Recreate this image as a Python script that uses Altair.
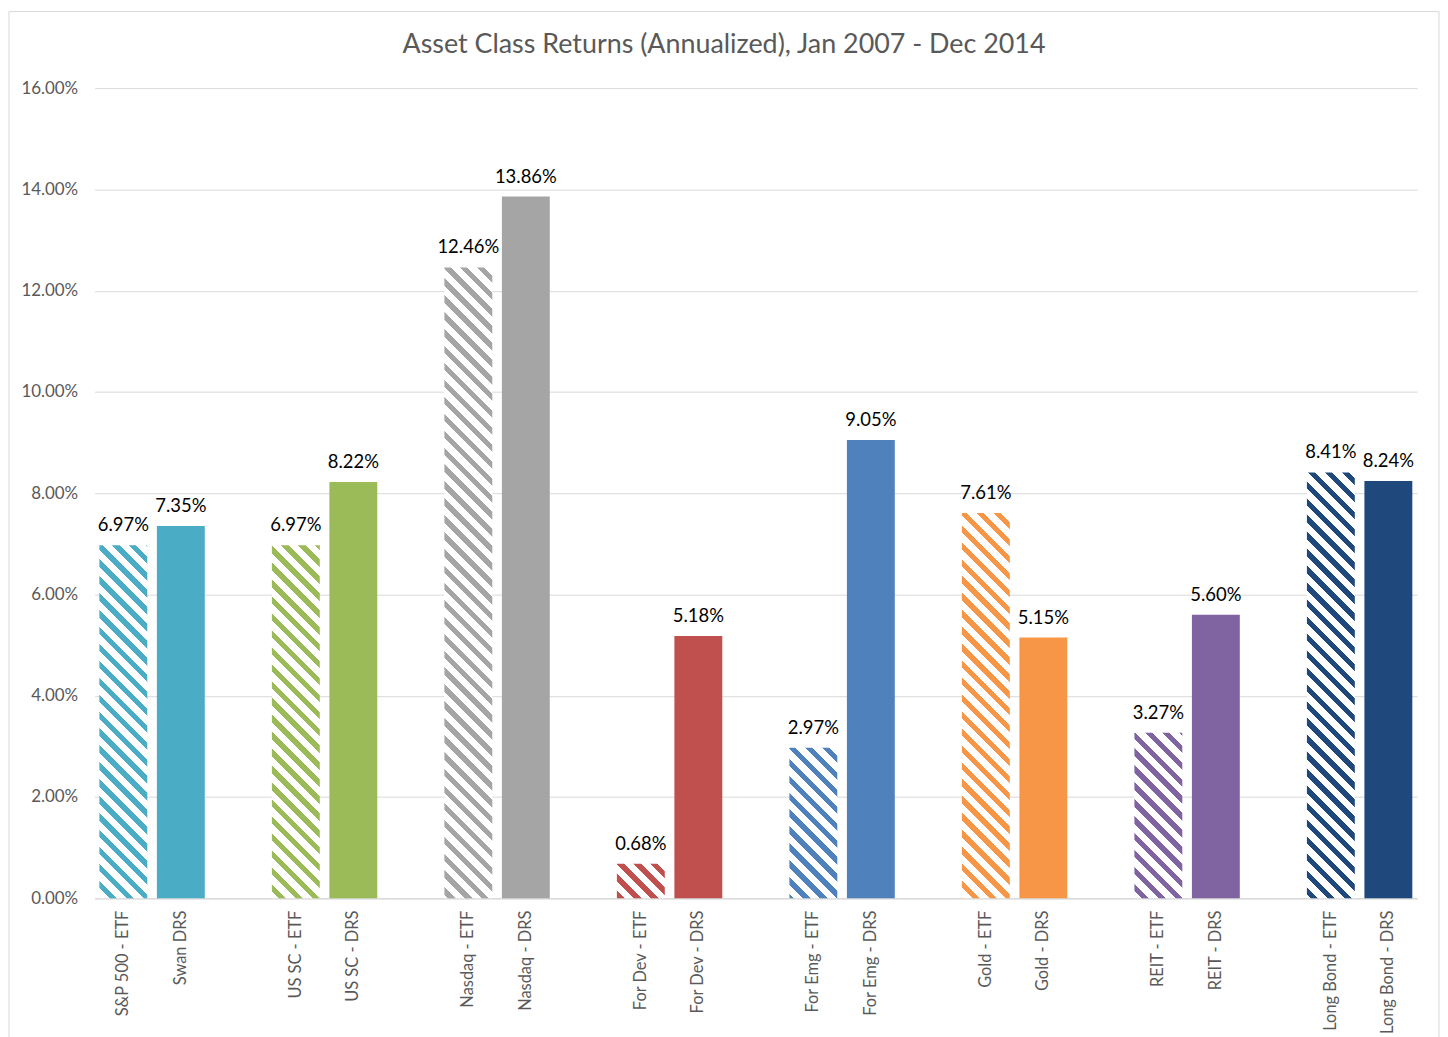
import altair as alt
import pandas as pd

# ---------------- data ----------------
groups = ["S&P 500", "US SC", "Nasdaq", "For Dev", "For Emg", "Gold", "REIT", "Long Bond"]
etf_labels = ["S&P 500 - ETF", "US SC - ETF", "Nasdaq - ETF", "For Dev - ETF",
              "For Emg - ETF", "Gold - ETF", "REIT - ETF", "Long Bond - ETF"]
drs_labels = ["Swan DRS", "US SC - DRS", "Nasdaq - DRS", "For Dev - DRS",
              "For Emg - DRS", "Gold - DRS", "REIT - DRS", "Long Bond - DRS"]
etf_values = [0.0697, 0.0697, 0.1246, 0.0068, 0.0297, 0.0761, 0.0327, 0.0841]
drs_values = [0.0735, 0.0822, 0.1386, 0.0518, 0.0905, 0.0515, 0.0560, 0.0824]
colors = ["#4BACC6", "#9BBB59", "#A5A5A5", "#C0504D", "#4F81BD", "#F79646", "#8064A2", "#1F497D"]
y_ticks = [0.0, 0.02, 0.04, 0.06, 0.08, 0.10, 0.12, 0.14, 0.16]
title_text = "Asset Class Returns (Annualized), Jan 2007 - Dec 2014"

# ---------------- layout constants ----------------
W, H = 1329, 814
Y_MAX = 0.16
PAD_IN = 0.167
PAD_OUT = PAD_IN / 2
FONT = "Lato"
GREY_TXT = "#595959"
GRID = "#d9d9d9"

# category slots (blank spacer slot between pairs)
slots = []
for i in range(len(groups)):
    slots += [etf_labels[i], drs_labels[i]]
    if i < len(groups) - 1:
        slots.append(" " * (i + 1))

rows = []
for i, g in enumerate(groups):
    rows.append({"label": etf_labels[i], "value": etf_values[i], "group": g, "kind": "ETF"})
    rows.append({"label": drs_labels[i], "value": drs_values[i], "group": g, "kind": "DRS"})
df = pd.DataFrame(rows)

n = len(slots)
step = W / (n - PAD_IN + 2 * PAD_OUT)
bw = step * (1 - PAD_IN)


def hatch(color, value, slot_index, period=17.0, frac=0.44):
    """Diagonal (down-right) stripe fill as a hard-stop linear gradient."""
    w = bw
    h = value / Y_MAX * H
    r = h / w
    du = (1 + r) / (1 + r * r)
    total = w + h
    x0 = PAD_OUT * step + slot_index * step
    shift = x0 - H  # global phase alignment
    stops = []
    k = int(shift // period) - 1
    while True:
        a = k * period - shift
        b = a + frac * period
        k += 1
        if b <= 0:
            continue
        if a >= total:
            break
        a_c, b_c = max(a, 0) / total, min(b, total) / total
        stops.append(alt.GradientStop(color="#ffffff", offset=a_c))
        stops.append(alt.GradientStop(color=color, offset=a_c))
        stops.append(alt.GradientStop(color=color, offset=b_c))
        stops.append(alt.GradientStop(color="#ffffff", offset=b_c))
    return alt.LinearGradient(gradient="linear", stops=stops,
                              x1=0, y1=1, x2=du, y2=1 - r * du)


x_enc = alt.X("label:N", sort=slots,
              scale=alt.Scale(domain=slots, paddingInner=PAD_IN, paddingOuter=PAD_OUT),
              axis=alt.Axis(title=None, labelAngle=270, labelAlign="right",
                            labelBaseline="middle", labelPadding=12, ticks=False,
                            domainColor=GRID, domainWidth=1.5, grid=False,
                            labelOverlap=False, labelFont=FONT, labelFontSize=16.5,
                            labelColor=GREY_TXT, labelLimit=300))
y_enc = alt.Y("value:Q", scale=alt.Scale(domain=[0, Y_MAX], nice=False),
              axis=alt.Axis(title=None, format=".2%", values=y_ticks, domain=False,
                            ticks=False, gridColor=GRID, gridWidth=1, labelPadding=17,
                            labelFont=FONT, labelFontSize=17, labelColor=GREY_TXT))

base = alt.Chart(df)

drs = base.transform_filter(alt.datum.kind == "DRS").mark_bar().encode(
    x=x_enc, y=y_enc,
    color=alt.Color("group:N", scale=alt.Scale(domain=groups, range=colors), legend=None),
)

etf_layers = []
for i in range(len(groups)):
    gr = hatch(colors[i], etf_values[i], slots.index(etf_labels[i]))
    etf_layers.append(
        base.transform_filter(alt.datum.label == etf_labels[i])
        .mark_bar(color=gr)
        .encode(x=x_enc, y=y_enc)
    )

labels = base.mark_text(baseline="alphabetic", dy=-14, fontSize=18.5, font=FONT,
                        color="#000000").encode(
    x=x_enc, y=y_enc, text=alt.Text("value:Q", format=".2%"))

frame = alt.Chart(alt.Data(values=[{"a": 1}])).mark_rect(
    fill=None, stroke=GRID, strokeWidth=1).encode(
    x=alt.value(-86), x2=alt.value(W + 22), y=alt.value(-77), y2=alt.value(H + 150))

chart = alt.layer(frame, drs, *etf_layers, labels).properties(
    width=W, height=H, padding=0,
    title=alt.TitleParams(title_text, font=FONT, fontSize=27, fontWeight="normal",
                          color=GREY_TXT, anchor="middle", frame="bounds", offset=-48),
).configure_view(stroke=None)

chart.save("out.html", embed_options={"renderer": "svg", "actions": False})
